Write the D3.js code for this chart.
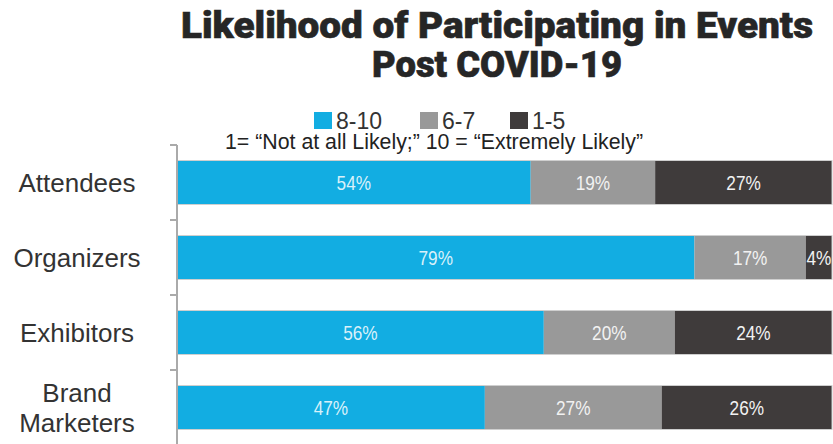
<!DOCTYPE html>
<html><head><meta charset="utf-8">
<script src="https://cdn.jsdelivr.net/npm/d3@7"></script>
<style>body{margin:0;background:#fff}svg{display:block}</style>
</head><body><svg id="c" width="833" height="444"></svg>
<script>
const categories = ["Attendees", "Organizers", "Exhibitors", "Brand Marketers"];
const seriesNames = ["8-10", "6-7", "1-5"];
const s810 = [54, 79, 56, 47];
const s67 = [19, 17, 20, 27];
const s15 = [27, 4, 24, 26];
const colors = ["#12ade2", "#999999", "#3f3b3b"];
const labelColors = ["#d9f1fa", "#f2f2f2", "#f2f2f2"];

const svg = d3.select("#c");
const x = d3.scaleLinear().domain([0, 100]).range([177, 832]);
const y = d3.scaleBand().domain(categories).range([145, 445]).paddingInner(0.413).paddingOuter(0.2065);

const stackData = categories.map((c, i) => ({cat: c, "8-10": s810[i], "6-7": s67[i], "1-5": s15[i]}));
const stack = d3.stack().keys(seriesNames)(stackData);

function condense(sel, ratio) {
  sel.each(function() {
    const w = this.getComputedTextLength();
    d3.select(this).attr("textLength", w * ratio).attr("lengthAdjust", "spacingAndGlyphs");
  });
}

// Title
const title = svg.append("g").attr("font-family", "Roboto, Liberation Sans, Arial, sans-serif").attr("font-weight", 900)
  .attr("fill", "#262626").attr("stroke", "#262626").attr("stroke-width", 0.6);
title.append("text").attr("x", 497).attr("y", 38).attr("text-anchor", "middle").attr("font-size", 36)
  .attr("textLength", 632).attr("lengthAdjust", "spacingAndGlyphs").text("Likelihood of Participating in Events");
title.append("text").attr("x", 497).attr("y", 77).attr("text-anchor", "middle").attr("font-size", 36)
  .attr("textLength", 250).attr("lengthAdjust", "spacingAndGlyphs").text("Post COVID-19");

// Legend
const legX = [314, 420, 510];
const leg = svg.append("g").attr("font-family", "Liberation Sans, Arial, sans-serif");
seriesNames.forEach((n, i) => {
  leg.append("rect").attr("x", legX[i]).attr("y", 112).attr("width", 18).attr("height", 17).attr("fill", colors[i]);
  leg.append("text").attr("x", legX[i] + 22).attr("y", 129).attr("font-size", 23).attr("fill", "#333").text(n);
});
leg.append("text").attr("x", 434).attr("y", 149).attr("text-anchor", "middle").attr("font-size", 21.5).attr("fill", "#222")
  .attr("textLength", 418).attr("lengthAdjust", "spacingAndGlyphs")
  .text("1= \u201CNot at all Likely;\u201D 10 = \u201CExtremely Likely\u201D");

// Bars
stack.forEach((layer, si) => {
  const g = svg.append("g");
  g.selectAll("rect").data(layer).join("rect")
    .attr("x", d => x(d[0])).attr("width", d => x(d[1]) - x(d[0]))
    .attr("y", d => y(d.data.cat)).attr("height", y.bandwidth())
    .attr("fill", colors[si]);
  const t = g.selectAll("text").data(layer).join("text")
    .attr("x", d => (x(d[0]) + x(d[1])) / 2).attr("y", d => y(d.data.cat) + y.bandwidth() / 2 + 7.5)
    .attr("text-anchor", "middle").attr("font-size", 21)
    .attr("font-family", "Liberation Sans, Arial, sans-serif")
    .attr("fill", labelColors[si]).text(d => (d[1] - d[0]) + "%");
  condense(t, 0.82);
});
// thin light borders top/bottom of bars
svg.append("g").selectAll("rect").data(categories).join("rect")
  .attr("x", x(0)).attr("width", x(100) - x(0)).attr("y", d => y(d)).attr("height", y.bandwidth())
  .attr("fill", "none").attr("stroke", "#cfcfcf").attr("stroke-width", 1);

// Axis
const axis = svg.append("g");
axis.append("line").attr("x1", 177).attr("x2", 177).attr("y1", 145).attr("y2", 444).attr("stroke", "#aaaaaa").attr("stroke-width", 2);
const bounds = categories.map(c => y(c) - y.step() * y.paddingInner() / 2);
axis.selectAll("line.t").data(bounds).join("line").attr("class", "t")
  .attr("x1", 170).attr("x2", 177).attr("y1", d => d).attr("y2", d => d).attr("stroke", "#aaaaaa").attr("stroke-width", 2);

// Category labels
const cl = svg.append("g").attr("font-family", "Liberation Sans, Arial, sans-serif").attr("font-size", 26).attr("fill", "#333").attr("text-anchor", "middle");
categories.forEach(c => {
  const cy = y(c) + y.bandwidth() / 2;
  const parts = c === "Brand Marketers" ? ["Brand", "Marketers"] : [c];
  parts.forEach((p, i) => {
    cl.append("text").attr("x", 77).attr("y", cy + 9 + (i - (parts.length - 1) / 2) * 30).text(p);
  });
});
</script></body></html>
